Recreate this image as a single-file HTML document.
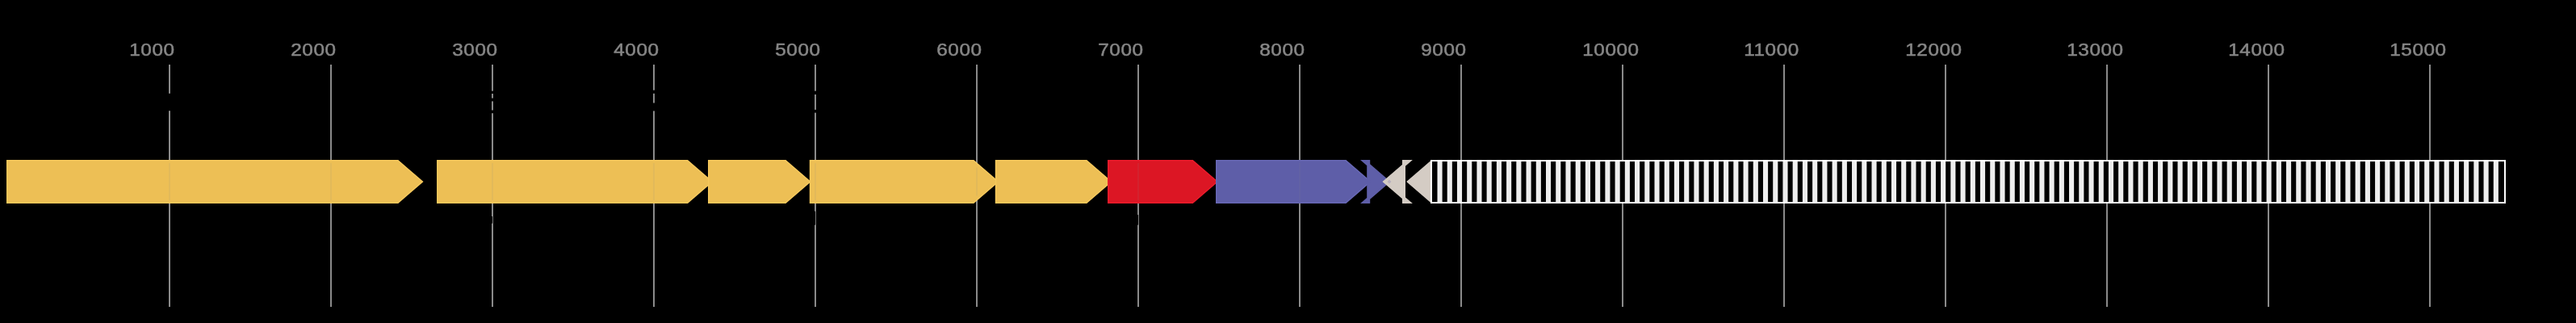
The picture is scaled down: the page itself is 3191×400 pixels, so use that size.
<!DOCTYPE html>
<html><head><meta charset="utf-8"><style>
html,body{margin:0;padding:0;background:#000;width:3191px;height:400px;overflow:hidden}
svg{display:block}
text{font-family:"Liberation Sans",sans-serif}
</style></head><body>
<svg width="3191" height="400" viewBox="0 0 3191 400">
<rect x="0" y="0" width="3191" height="400" fill="#000"/>
<g fill="#868686" stroke="#868686" stroke-width="0.5" font-size="21.5" style="will-change:transform">
<text transform="translate(160.20,69.2) scale(1.13,1)" letter-spacing="0.52">1000</text>
<text transform="translate(360.20,69.2) scale(1.13,1)" letter-spacing="0.52">2000</text>
<text transform="translate(560.20,69.2) scale(1.13,1)" letter-spacing="0.52">3000</text>
<text transform="translate(760.20,69.2) scale(1.13,1)" letter-spacing="0.52">4000</text>
<text transform="translate(960.20,69.2) scale(1.13,1)" letter-spacing="0.52">5000</text>
<text transform="translate(1160.20,69.2) scale(1.13,1)" letter-spacing="0.52">6000</text>
<text transform="translate(1360.20,69.2) scale(1.13,1)" letter-spacing="0.52">7000</text>
<text transform="translate(1560.20,69.2) scale(1.13,1)" letter-spacing="0.52">8000</text>
<text transform="translate(1760.20,69.2) scale(1.13,1)" letter-spacing="0.52">9000</text>
<text transform="translate(1960.20,69.2) scale(1.13,1)" letter-spacing="0.52">10000</text>
<text transform="translate(2160.20,69.2) scale(1.13,1)" letter-spacing="0.52">11000</text>
<text transform="translate(2360.20,69.2) scale(1.13,1)" letter-spacing="0.52">12000</text>
<text transform="translate(2560.20,69.2) scale(1.13,1)" letter-spacing="0.52">13000</text>
<text transform="translate(2760.20,69.2) scale(1.13,1)" letter-spacing="0.52">14000</text>
<text transform="translate(2960.20,69.2) scale(1.13,1)" letter-spacing="0.52">15000</text>
</g>
<g stroke="#8a8a8a" stroke-width="2">
<line x1="210" y1="80" x2="210" y2="380"/>
<line x1="410" y1="80" x2="410" y2="380"/>
<line x1="610" y1="80" x2="610" y2="380"/>
<line x1="810" y1="80" x2="810" y2="380"/>
<line x1="1010" y1="80" x2="1010" y2="380"/>
<line x1="1210" y1="80" x2="1210" y2="380"/>
<line x1="1410" y1="80" x2="1410" y2="380"/>
<line x1="1610" y1="80" x2="1610" y2="380"/>
<line x1="1810" y1="80" x2="1810" y2="380"/>
<line x1="2010" y1="80" x2="2010" y2="380"/>
<line x1="2210" y1="80" x2="2210" y2="380"/>
<line x1="2410" y1="80" x2="2410" y2="380"/>
<line x1="2610" y1="80" x2="2610" y2="380"/>
<line x1="2810" y1="80" x2="2810" y2="380"/>
<line x1="3010" y1="80" x2="3010" y2="380"/>
</g>
<polygon points="10,200 492.5,200 521.5,225 492.5,250 10,250" fill="#EDBF55" stroke="#F5C85C" stroke-width="4" stroke-miterlimit="10"/>
<polygon points="10,200 492.5,200 521.5,225 492.5,250 10,250" fill="#EDBF55" stroke="#EDBF55" stroke-width="1"/>
<line x1="210" y1="202.0" x2="210" y2="248.0" stroke="#8a8a8a" stroke-width="2" opacity="0.1"/>
<line x1="410" y1="202.0" x2="410" y2="248.0" stroke="#8a8a8a" stroke-width="2" opacity="0.1"/>
<polygon points="543,200 851.2,200 880.2,225 851.2,250 543,250" fill="#EDBF55" stroke="#F5C85C" stroke-width="4" stroke-miterlimit="10"/>
<polygon points="543,200 851.2,200 880.2,225 851.2,250 543,250" fill="#EDBF55" stroke="#EDBF55" stroke-width="1"/>
<line x1="610" y1="202.0" x2="610" y2="248.0" stroke="#8a8a8a" stroke-width="2" opacity="0.1"/>
<line x1="810" y1="202.0" x2="810" y2="248.0" stroke="#8a8a8a" stroke-width="2" opacity="0.1"/>
<polygon points="879,200 972.7,200 1001.7,225 972.7,250 879,250" fill="#EDBF55" stroke="#F5C85C" stroke-width="4" stroke-miterlimit="10"/>
<polygon points="879,200 972.7,200 1001.7,225 972.7,250 879,250" fill="#EDBF55" stroke="#EDBF55" stroke-width="1"/>
<polygon points="1004.8,200 1205.5,200 1234.5,225 1205.5,250 1004.8,250" fill="#EDBF55" stroke="#F5C85C" stroke-width="4" stroke-miterlimit="10"/>
<polygon points="1004.8,200 1205.5,200 1234.5,225 1205.5,250 1004.8,250" fill="#EDBF55" stroke="#EDBF55" stroke-width="1"/>
<line x1="1010" y1="202.0" x2="1010" y2="248.0" stroke="#8a8a8a" stroke-width="2" opacity="0.1"/>
<line x1="1210" y1="207.4" x2="1210" y2="242.6" stroke="#8a8a8a" stroke-width="2" opacity="0.1"/>
<polygon points="1234.8,200 1345.5,200 1374.5,225 1345.5,250 1234.8,250" fill="#EDBF55" stroke="#F5C85C" stroke-width="4" stroke-miterlimit="10"/>
<polygon points="1234.8,200 1345.5,200 1374.5,225 1345.5,250 1234.8,250" fill="#EDBF55" stroke="#EDBF55" stroke-width="1"/>
<polygon points="1374,200 1477,200 1506,225 1477,250 1374,250" fill="#DC1624" stroke="#EA1B2B" stroke-width="4" stroke-miterlimit="10"/>
<polygon points="1374,200 1477,200 1506,225 1477,250 1374,250" fill="#DC1624" stroke="#DC1624" stroke-width="1"/>
<line x1="1410" y1="202.0" x2="1410" y2="248.0" stroke="#8a8a8a" stroke-width="2" opacity="0.1"/>
<polygon points="1508,200 1666.7,200 1695.7,225 1666.7,250 1508,250" fill="#5E5EA8" stroke="#6767B4" stroke-width="4" stroke-miterlimit="10"/>
<polygon points="1508,200 1666.7,200 1695.7,225 1666.7,250 1508,250" fill="#5E5EA8" stroke="#5E5EA8" stroke-width="1"/>
<line x1="1610" y1="202.0" x2="1610" y2="248.0" stroke="#8a8a8a" stroke-width="2" opacity="0.1"/>
<polygon points="1695.2,200 1690.4,200 1719.4,225 1690.4,250 1695.2,250" fill="#5E5EA8" stroke="#5E5EA8" stroke-width="4" stroke-miterlimit="10"/>
<polygon points="1739,200 1744.5,200 1715.5,225 1744.5,250 1739,250" fill="#D4CCC4" stroke="#D4CCC4" stroke-width="4" stroke-miterlimit="10"/>
<polygon points="1718.5,225 1721,222.5 1723.5,225 1721,227.5" fill="#B8B0BE"/>
<polygon points="1800,200 1774.2,200 1745.2,225 1774.2,250 1800,250" fill="#D4CCC4" stroke="#D4CCC4" stroke-width="4" stroke-miterlimit="10"/>
<rect x="1772" y="198" width="1332" height="54" fill="#fff"/>
<rect x="1774" y="200" width="1328" height="50" fill="#000"/>
<rect x="1780.50" y="200" width="6.1" height="50" fill="#EEEEEE"/>
<rect x="1792.73" y="200" width="6.1" height="50" fill="#EEEEEE"/>
<rect x="1804.95" y="200" width="6.1" height="50" fill="#EEEEEE"/>
<rect x="1817.18" y="200" width="6.1" height="50" fill="#EEEEEE"/>
<rect x="1829.41" y="200" width="6.1" height="50" fill="#EEEEEE"/>
<rect x="1841.63" y="200" width="6.1" height="50" fill="#EEEEEE"/>
<rect x="1853.86" y="200" width="6.1" height="50" fill="#EEEEEE"/>
<rect x="1866.09" y="200" width="6.1" height="50" fill="#EEEEEE"/>
<rect x="1878.32" y="200" width="6.1" height="50" fill="#EEEEEE"/>
<rect x="1890.54" y="200" width="6.1" height="50" fill="#EEEEEE"/>
<rect x="1902.77" y="200" width="6.1" height="50" fill="#EEEEEE"/>
<rect x="1915.00" y="200" width="6.1" height="50" fill="#EEEEEE"/>
<rect x="1927.22" y="200" width="6.1" height="50" fill="#EEEEEE"/>
<rect x="1939.45" y="200" width="6.1" height="50" fill="#EEEEEE"/>
<rect x="1951.68" y="200" width="6.1" height="50" fill="#EEEEEE"/>
<rect x="1963.90" y="200" width="6.1" height="50" fill="#EEEEEE"/>
<rect x="1976.13" y="200" width="6.1" height="50" fill="#EEEEEE"/>
<rect x="1988.36" y="200" width="6.1" height="50" fill="#EEEEEE"/>
<rect x="2000.59" y="200" width="6.1" height="50" fill="#EEEEEE"/>
<rect x="2012.81" y="200" width="6.1" height="50" fill="#EEEEEE"/>
<rect x="2025.04" y="200" width="6.1" height="50" fill="#EEEEEE"/>
<rect x="2037.27" y="200" width="6.1" height="50" fill="#EEEEEE"/>
<rect x="2049.49" y="200" width="6.1" height="50" fill="#EEEEEE"/>
<rect x="2061.72" y="200" width="6.1" height="50" fill="#EEEEEE"/>
<rect x="2073.95" y="200" width="6.1" height="50" fill="#EEEEEE"/>
<rect x="2086.18" y="200" width="6.1" height="50" fill="#EEEEEE"/>
<rect x="2098.40" y="200" width="6.1" height="50" fill="#EEEEEE"/>
<rect x="2110.63" y="200" width="6.1" height="50" fill="#EEEEEE"/>
<rect x="2122.86" y="200" width="6.1" height="50" fill="#EEEEEE"/>
<rect x="2135.08" y="200" width="6.1" height="50" fill="#EEEEEE"/>
<rect x="2147.31" y="200" width="6.1" height="50" fill="#EEEEEE"/>
<rect x="2159.54" y="200" width="6.1" height="50" fill="#EEEEEE"/>
<rect x="2171.76" y="200" width="6.1" height="50" fill="#EEEEEE"/>
<rect x="2183.99" y="200" width="6.1" height="50" fill="#EEEEEE"/>
<rect x="2196.22" y="200" width="6.1" height="50" fill="#EEEEEE"/>
<rect x="2208.45" y="200" width="6.1" height="50" fill="#EEEEEE"/>
<rect x="2220.67" y="200" width="6.1" height="50" fill="#EEEEEE"/>
<rect x="2232.90" y="200" width="6.1" height="50" fill="#EEEEEE"/>
<rect x="2245.13" y="200" width="6.1" height="50" fill="#EEEEEE"/>
<rect x="2257.35" y="200" width="6.1" height="50" fill="#EEEEEE"/>
<rect x="2269.58" y="200" width="6.1" height="50" fill="#EEEEEE"/>
<rect x="2281.81" y="200" width="6.1" height="50" fill="#EEEEEE"/>
<rect x="2294.03" y="200" width="6.1" height="50" fill="#EEEEEE"/>
<rect x="2306.26" y="200" width="6.1" height="50" fill="#EEEEEE"/>
<rect x="2318.49" y="200" width="6.1" height="50" fill="#EEEEEE"/>
<rect x="2330.72" y="200" width="6.1" height="50" fill="#EEEEEE"/>
<rect x="2342.94" y="200" width="6.1" height="50" fill="#EEEEEE"/>
<rect x="2355.17" y="200" width="6.1" height="50" fill="#EEEEEE"/>
<rect x="2367.40" y="200" width="6.1" height="50" fill="#EEEEEE"/>
<rect x="2379.62" y="200" width="6.1" height="50" fill="#EEEEEE"/>
<rect x="2391.85" y="200" width="6.1" height="50" fill="#EEEEEE"/>
<rect x="2404.08" y="200" width="6.1" height="50" fill="#EEEEEE"/>
<rect x="2416.30" y="200" width="6.1" height="50" fill="#EEEEEE"/>
<rect x="2428.53" y="200" width="6.1" height="50" fill="#EEEEEE"/>
<rect x="2440.76" y="200" width="6.1" height="50" fill="#EEEEEE"/>
<rect x="2452.99" y="200" width="6.1" height="50" fill="#EEEEEE"/>
<rect x="2465.21" y="200" width="6.1" height="50" fill="#EEEEEE"/>
<rect x="2477.44" y="200" width="6.1" height="50" fill="#EEEEEE"/>
<rect x="2489.67" y="200" width="6.1" height="50" fill="#EEEEEE"/>
<rect x="2501.89" y="200" width="6.1" height="50" fill="#EEEEEE"/>
<rect x="2514.12" y="200" width="6.1" height="50" fill="#EEEEEE"/>
<rect x="2526.35" y="200" width="6.1" height="50" fill="#EEEEEE"/>
<rect x="2538.57" y="200" width="6.1" height="50" fill="#EEEEEE"/>
<rect x="2550.80" y="200" width="6.1" height="50" fill="#EEEEEE"/>
<rect x="2563.03" y="200" width="6.1" height="50" fill="#EEEEEE"/>
<rect x="2575.26" y="200" width="6.1" height="50" fill="#EEEEEE"/>
<rect x="2587.48" y="200" width="6.1" height="50" fill="#EEEEEE"/>
<rect x="2599.71" y="200" width="6.1" height="50" fill="#EEEEEE"/>
<rect x="2611.94" y="200" width="6.1" height="50" fill="#EEEEEE"/>
<rect x="2624.16" y="200" width="6.1" height="50" fill="#EEEEEE"/>
<rect x="2636.39" y="200" width="6.1" height="50" fill="#EEEEEE"/>
<rect x="2648.62" y="200" width="6.1" height="50" fill="#EEEEEE"/>
<rect x="2660.84" y="200" width="6.1" height="50" fill="#EEEEEE"/>
<rect x="2673.07" y="200" width="6.1" height="50" fill="#EEEEEE"/>
<rect x="2685.30" y="200" width="6.1" height="50" fill="#EEEEEE"/>
<rect x="2697.53" y="200" width="6.1" height="50" fill="#EEEEEE"/>
<rect x="2709.75" y="200" width="6.1" height="50" fill="#EEEEEE"/>
<rect x="2721.98" y="200" width="6.1" height="50" fill="#EEEEEE"/>
<rect x="2734.21" y="200" width="6.1" height="50" fill="#EEEEEE"/>
<rect x="2746.43" y="200" width="6.1" height="50" fill="#EEEEEE"/>
<rect x="2758.66" y="200" width="6.1" height="50" fill="#EEEEEE"/>
<rect x="2770.89" y="200" width="6.1" height="50" fill="#EEEEEE"/>
<rect x="2783.11" y="200" width="6.1" height="50" fill="#EEEEEE"/>
<rect x="2795.34" y="200" width="6.1" height="50" fill="#EEEEEE"/>
<rect x="2807.57" y="200" width="6.1" height="50" fill="#EEEEEE"/>
<rect x="2819.80" y="200" width="6.1" height="50" fill="#EEEEEE"/>
<rect x="2832.02" y="200" width="6.1" height="50" fill="#EEEEEE"/>
<rect x="2844.25" y="200" width="6.1" height="50" fill="#EEEEEE"/>
<rect x="2856.48" y="200" width="6.1" height="50" fill="#EEEEEE"/>
<rect x="2868.70" y="200" width="6.1" height="50" fill="#EEEEEE"/>
<rect x="2880.93" y="200" width="6.1" height="50" fill="#EEEEEE"/>
<rect x="2893.16" y="200" width="6.1" height="50" fill="#EEEEEE"/>
<rect x="2905.38" y="200" width="6.1" height="50" fill="#EEEEEE"/>
<rect x="2917.61" y="200" width="6.1" height="50" fill="#EEEEEE"/>
<rect x="2929.84" y="200" width="6.1" height="50" fill="#EEEEEE"/>
<rect x="2942.07" y="200" width="6.1" height="50" fill="#EEEEEE"/>
<rect x="2954.29" y="200" width="6.1" height="50" fill="#EEEEEE"/>
<rect x="2966.52" y="200" width="6.1" height="50" fill="#EEEEEE"/>
<rect x="2978.75" y="200" width="6.1" height="50" fill="#EEEEEE"/>
<rect x="2990.97" y="200" width="6.1" height="50" fill="#EEEEEE"/>
<rect x="3003.20" y="200" width="6.1" height="50" fill="#EEEEEE"/>
<rect x="3015.43" y="200" width="6.1" height="50" fill="#EEEEEE"/>
<rect x="3027.65" y="200" width="6.1" height="50" fill="#EEEEEE"/>
<rect x="3039.88" y="200" width="6.1" height="50" fill="#EEEEEE"/>
<rect x="3052.11" y="200" width="6.1" height="50" fill="#EEEEEE"/>
<rect x="3064.34" y="200" width="6.1" height="50" fill="#EEEEEE"/>
<rect x="3076.56" y="200" width="6.1" height="50" fill="#EEEEEE"/>
<rect x="3088.79" y="200" width="6.1" height="50" fill="#EEEEEE"/>
<rect x="208.5" y="115.8" width="3" height="21.4" fill="#000"/>
<rect x="608.5" y="112.7" width="3" height="3.3" fill="#000"/>
<rect x="608.5" y="121.6" width="3" height="3.8" fill="#000"/>
<rect x="608.5" y="136.5" width="3" height="3.7" fill="#000"/>
<rect x="808.5" y="111.7" width="3" height="4.1" fill="#000"/>
<rect x="808.5" y="127.5" width="3" height="9.9" fill="#000"/>
<rect x="1008.5" y="112.7" width="3" height="4.3" fill="#000"/>
<rect x="1008.5" y="135.9" width="3" height="3.7" fill="#000"/>
<rect x="608.5" y="268" width="1.6" height="8.6" fill="#000"/>
<rect x="1008.5" y="261.7" width="1.6" height="16.8" fill="#000"/>
<rect x="1408.5" y="266" width="1.6" height="12.5" fill="#000"/>
</svg></body></html>
